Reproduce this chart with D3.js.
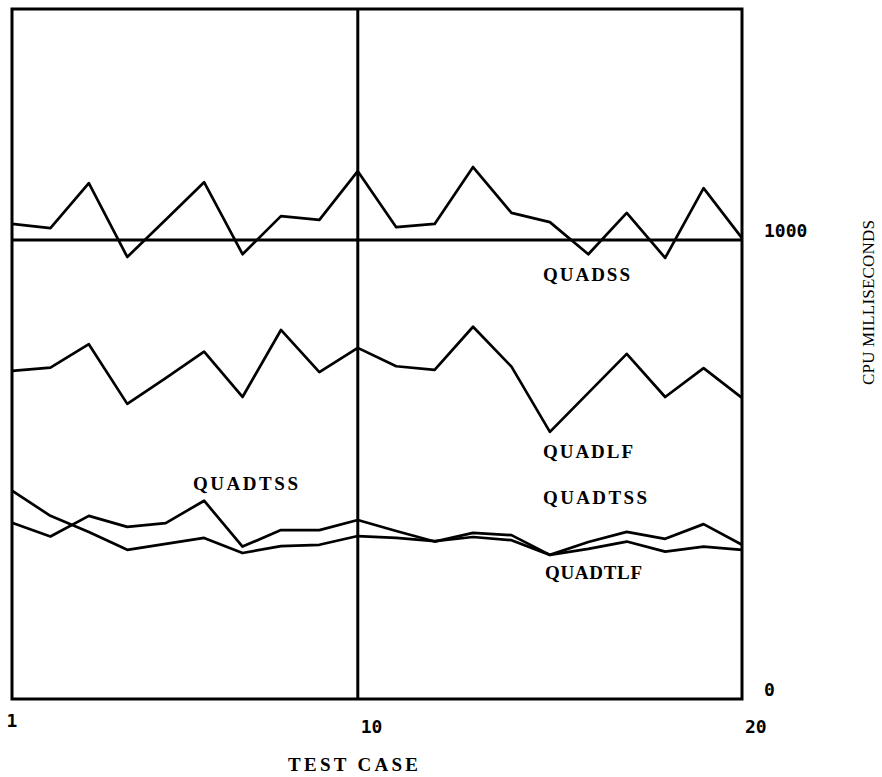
<!DOCTYPE html>
<html>
<head>
<meta charset="utf-8">
<script src="https://cdn.jsdelivr.net/npm/d3@7"></script>
<style>
  body { margin: 0; background: #fff; }
  text { fill: #000; }
</style>
</head>
<body>
<div id="chart"></div>
<script>
// test cases 1..20
var cases = d3.range(1, 21);

// CPU milliseconds
var quadss = [1035, 1026, 1124, 963, 1044, 1126, 969, 1052, 1044, 1150,
              1028, 1035, 1159, 1059, 1039, 969, 1059, 961, 1113, 1004];
var quadlf = [715, 722, 773, 643, 699, 757, 658, 804, 712, 765,
              725, 717, 811, 724, 582, 667, 752, 658, 721, 656];
var quadtss = [384, 354, 399, 375, 383, 432, 332, 368, 368, 390,
               366, 343, 362, 357, 314, 342, 364, 349, 381, 336];
var quadtlf = [454, 399, 364, 325, 338, 351, 318, 333, 336, 355,
               351, 344, 353, 346, 314, 327, 343, 321, 332, 325];

var xTicks = [1, 10, 20];
var yTicks = [0, 1000];

var width = 882, height = 777;

var svg = d3.select("#chart")
    .append("svg")
    .attr("width", width)
    .attr("height", height);

var x = d3.scaleLinear().domain([1, 20]).range([12, 742]);
var y = d3.scaleLinear().domain([0, 1000]).range([699, 240]);
var yTop = 9;

// frame
svg.append("rect")
    .attr("x", x(1))
    .attr("y", yTop)
    .attr("width", x(20) - x(1))
    .attr("height", y(0) - yTop)
    .style("fill", "none")
    .style("stroke", "#000")
    .style("stroke-width", 3);

// reference lines at case 10 and 1000 ms
svg.append("line")
    .attr("x1", x(10)).attr("x2", x(10))
    .attr("y1", yTop).attr("y2", y(0))
    .style("stroke", "#000").style("stroke-width", 3);

svg.append("line")
    .attr("x1", x(1)).attr("x2", x(20))
    .attr("y1", y(1000)).attr("y2", y(1000))
    .style("stroke", "#000").style("stroke-width", 3);

var line = d3.line()
    .x(function (d, i) { return x(cases[i]); })
    .y(function (d) { return y(d); });

[quadss, quadlf, quadtss, quadtlf].forEach(function (s) {
    svg.append("path")
        .datum(s)
        .attr("d", line)
        .style("fill", "none")
        .style("stroke", "#000")
        .style("stroke-width", 2.7)
        .style("stroke-linejoin", "round");
});

// tick labels (x under the axis, y on the right)
var tickFont = "'DejaVu Sans Mono', monospace";
svg.selectAll(".xt")
    .data(xTicks)
    .enter()
    .append("text")
    .attr("x", function (d) { return d == 1 ? x(d) : x(d) + 3; })
    .attr("y", function (d) { return d == 1 ? 727 : 733; })
    .attr("text-anchor", function (d) { return d == 1 ? "middle" : "start"; })
    .style("font-family", tickFont)
    .style("font-weight", "bold")
    .style("font-size", "18px")
    .text(function (d) { return d; });

svg.selectAll(".yt")
    .data(yTicks)
    .enter()
    .append("text")
    .attr("x", 764)
    .attr("y", function (d) { return y(d) - 3; })
    .style("font-family", tickFont)
    .style("font-weight", "bold")
    .style("font-size", "18px")
    .text(function (d) { return d; });

// series and axis labels
var labFont = "'Liberation Serif', 'Times New Roman', serif";
var labels = [
    { t: "QUADSS", x: 543, y: 281, w: 87 },
    { t: "QUADLF", x: 543, y: 458, w: 90 },
    { t: "QUADTSS", x: 543, y: 504, w: 104 },
    { t: "QUADTSS", x: 193, y: 490, w: 105 },
    { t: "QUADTLF", x: 545, y: 579, w: 97 },
    { t: "TEST CASE", x: 288, y: 771, w: 130 }
];
svg.selectAll(".lab")
    .data(labels)
    .enter()
    .append("text")
    .attr("x", function (d) { return d.x; })
    .attr("y", function (d) { return d.y; })
    .attr("textLength", function (d) { return d.w; })
    .attr("lengthAdjust", "spacing")
    .style("font-family", labFont)
    .style("font-weight", "bold")
    .style("font-size", "19px")
    .text(function (d) { return d.t; });

svg.append("text")
    .attr("transform", "translate(874,385) rotate(-90)")
    .attr("textLength", 165)
    .attr("lengthAdjust", "spacing")
    .style("font-family", labFont)
    .style("font-size", "17px")
    .text("CPU MILLISECONDS");
</script>
</body>
</html>
